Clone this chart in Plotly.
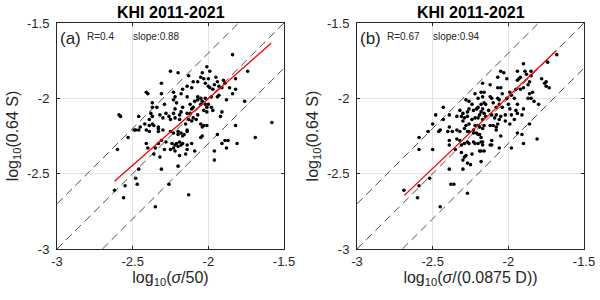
import plotly.graph_objects as go

# ---------------- data ----------------
a_x = [-1.84,-2.01,-2.25,-2.20,-2.04,-1.99,-2.13,-2.05,-2.00,-2.10,-2.07,-1.94,-1.90,-1.82,-1.74,
       -2.31,-2.14,-2.17,-2.11,-2.02,-2.00,-1.97,-1.82,-1.84,-2.41,-2.40,-2.31,-2.23,-2.18,-2.14,
       -2.07,-2.05,-2.02,-1.88,-1.76,-1.95,-1.89,-1.99,-1.96,-1.93,-1.91,-1.86,-1.98,-1.94,-1.93,
       -2.22,-2.03,
       -2.23,-2.21,-2.37,-2.34,-2.29,-2.10,-2.05,-2.01,-1.98,-1.97,-2.59,-2.58,-2.46,-1.92,-1.91,
       -1.82,-1.58,-1.69,-2.53,-2.48,-2.45,-1.94,-2.37,-2.38,-2.37,-2.39,-2.37,-2.39,-2.32,-2.30,
       -2.28,-2.26,-2.25,-2.22,-2.17,-2.18,-2.14,-2.12,-2.23,-2.22,-2.19,-2.19,-2.13,-2.15,-2.42,
       -2.36,-2.33,-2.41,-2.39,-2.33,-2.46,-2.14,-2.18,-2.07,-2.08,-2.10,-2.11,-2.05,-2.03,-2.04,
       -2.01,-2.02,-2.00,-2.03,-2.01,-2.12,-2.11,-2.07,-2.04,-2.09,
       -2.49,-2.33,-2.30,-2.25,-2.23,-2.20,-2.16,-2.14,-2.20,-2.17,-2.41,-2.33,-2.31,-2.28,-2.24,
       -2.22,-2.21,-2.19,-2.18,-2.17,-2.20,-2.14,-2.11,-2.23,-2.22,-2.19,-2.15,-2.14,-2.25,-2.40,
       -2.35,-2.29,-2.60,-2.46,-2.31,-2.48,-2.47,-2.55,-2.62,-2.56,-2.13,-2.35,-2.20,-2.26,-2.36,
       -2.32,-1.96,-1.96,-2.09,-1.91,-1.89,-1.87,-1.88,-1.81,-2.05,-2.04]
a_y = [-1.71,-1.79,-1.82,-1.83,-1.83,-1.82,-1.85,-1.86,-1.87,-1.89,-1.89,-1.89,-1.88,-1.87,-1.82,
       -1.90,-1.92,-1.94,-1.93,-1.90,-1.92,-1.94,-1.94,-1.97,-1.96,-1.97,-1.97,-1.96,-1.97,-1.99,
       -1.99,-2.00,-2.00,-2.01,-2.02,-1.86,-1.90,-1.93,-1.91,-1.92,-1.93,-1.93,-1.99,-1.99,-1.98,
       -1.99,-1.87,
       -2.01,-2.03,-2.06,-2.06,-2.04,-2.06,-2.04,-2.06,-2.06,-2.08,-2.11,-2.12,-2.12,-2.12,-2.09,
       -2.18,-2.16,-2.26,-2.26,-2.21,-2.19,-2.24,-2.03,-2.10,-2.12,-2.14,-2.17,-2.18,-2.11,-2.13,
       -2.10,-2.12,-2.14,-2.07,-2.06,-2.09,-2.10,-2.10,-2.10,-2.13,-2.11,-2.14,-2.14,-2.17,-2.17,
       -2.18,-2.19,-2.21,-2.22,-2.20,-2.21,-2.21,-2.23,-2.11,-2.14,-2.13,-2.15,-2.17,-2.18,-2.19,
       -2.18,-2.04,-2.04,-2.08,-2.09,-2.04,-2.07,-2.01,-2.02,-2.02,
       -2.21,-2.22,-2.21,-2.22,-2.23,-2.22,-2.24,-2.22,-2.24,-2.25,-2.30,-2.30,-2.28,-2.29,-2.30,
       -2.31,-2.30,-2.29,-2.31,-2.30,-2.32,-2.31,-2.30,-2.33,-2.35,-2.38,-2.37,-2.34,-2.34,-2.33,
       -2.33,-2.34,-2.34,-2.47,-2.47,-2.53,-2.57,-2.58,-2.61,-2.66,-2.64,-2.72,-2.45,-2.57,-2.37,
       -2.39,-2.35,-2.41,-2.35,-2.30,-2.28,-2.28,-2.33,-2.30,-2.26,-2.25]

b_x = [-1.68,-2.05,-2.03,-1.90,-1.74,-1.94,-1.89,-1.88,-1.85,-1.85,-2.07,-2.01,-1.93,-1.92,-1.94,
       -1.78,-1.76,-1.75,-1.73,-1.75,-1.86,-1.87,-2.17,-2.12,-2.16,-2.18,-2.07,-2.05,-2.04,-1.99,
       -1.98,-1.95,-1.92,-1.90,-1.86,-1.84,-2.20,-2.17,-2.12,-2.11,-2.07,-2.06,-2.01,-1.96,-1.87,
       -1.85,-1.83,-2.22,-2.26,-2.28,-2.24,-2.43,
       -2.16,-2.15,-2.18,-2.20,-2.17,-2.13,-2.10,-2.08,-2.06,-2.04,-2.00,-1.99,-1.94,-1.95,-1.90,
       -1.80,-2.18,-2.16,-2.19,-2.20,-2.17,-2.15,-2.11,-2.08,-2.09,-2.05,-2.06,-2.02,-1.98,-1.94,
       -1.91,-1.96,-2.07,-2.08,-2.10,-2.02,-1.99,-2.16,-2.12,-2.17,-1.94,-1.91,-2.20,-1.86,-1.81,
       -2.32,-2.30,-2.27,-2.26,-2.23,-2.21,-2.34,-2.31,-2.29,-2.27,-2.24,-2.22,-2.30,-2.28,-2.26,
       -2.22,-2.19,-2.34,-2.32,-2.29,-2.27,-2.23,-2.21,-2.48,-2.39,-2.43,-2.50,-2.45,-2.39,-2.53,
       -2.59,-2.46,-2.40,-2.37,-2.26,-2.23,-2.19,-2.34,-2.32,-2.31,-2.29,-2.27,-2.26,-2.23,-2.22,
       -2.20,-2.18,-2.17,-2.39,-2.39,-2.59,-2.50,-2.35,-2.31,-2.28,-2.29,-2.24,-2.19,-2.30,-2.27,
       -2.25,-2.18,-2.39,-2.30,-2.52,-2.59,-2.69,-2.60,-2.38,-2.36,-2.27,-2.45,-2.20,-2.18,-2.17,
       -2.18,-2.16,-2.11,-2.12,-2.11,-2.08,-2.05,-2.06,-1.98,-1.90]
b_y = [-1.71,-1.82,-1.83,-1.77,-1.76,-1.82,-1.82,-1.84,-1.82,-1.85,-1.86,-1.87,-1.87,-1.86,-1.88,
       -1.87,-1.90,-1.89,-1.93,-1.92,-1.89,-1.91,-1.90,-1.91,-1.96,-1.96,-1.93,-1.93,-1.97,-1.96,
       -1.98,-1.94,-1.94,-1.93,-1.97,-1.96,-2.00,-1.99,-1.99,-2.00,-2.00,-2.01,-2.00,-2.00,-2.00,
       -2.00,-2.02,-1.97,-2.02,-2.01,-2.04,-2.06,
       -2.03,-2.04,-2.04,-2.06,-2.07,-2.08,-2.03,-2.06,-2.04,-2.06,-2.04,-2.07,-2.04,-2.08,-2.07,
       -2.04,-2.09,-2.10,-2.11,-2.13,-2.14,-2.12,-2.11,-2.11,-2.13,-2.12,-2.14,-2.11,-2.11,-2.10,
       -2.11,-2.14,-2.17,-2.19,-2.18,-2.15,-2.17,-2.18,-2.18,-2.20,-2.23,-2.24,-2.18,-2.17,-2.27,
       -2.08,-2.10,-2.09,-2.07,-2.08,-2.07,-2.12,-2.12,-2.13,-2.12,-2.14,-2.13,-2.15,-2.18,-2.17,
       -2.18,-2.19,-2.21,-2.22,-2.20,-2.22,-2.21,-2.23,-2.11,-2.11,-2.14,-2.17,-2.21,-2.19,-2.22,
       -2.26,-2.22,-2.22,-2.22,-2.22,-2.23,-2.24,-2.27,-2.28,-2.31,-2.30,-2.29,-2.30,-2.29,-2.30,
       -2.30,-2.29,-2.31,-2.28,-2.31,-2.34,-2.34,-2.34,-2.36,-2.38,-2.39,-2.37,-2.35,-2.41,-2.43,
       -2.44,-2.42,-2.47,-2.47,-2.53,-2.58,-2.61,-2.66,-2.57,-2.57,-2.63,-2.72,-2.24,-2.26,-2.29,
       -2.35,-2.35,-2.28,-2.31,-2.31,-2.21,-2.25,-2.33,-2.33,-2.30]

fit_a_x = [-2.62, -1.585]
fit_a_y = [-2.55, -1.635]
fit_b_x = [-2.687, -1.682]
fit_b_y = [-2.644, -1.683]

ref_offsets = [0.3, 0.0, -0.3]
axis_min, axis_max = -3.0, -1.5
tick_vals = [-3, -2.5, -2, -1.5]
tick_text = ["-3", "-2.5", "-2", "-1.5"]

panel_title = "KHI 2011-2021"
labels = ["(a)", "(b)"]
r_text = ["R=0.4", "R=0.67"]
slope_text = ["slope:0.88", "slope:0.94"]
x_titles = ["log<sub>10</sub>(<i>σ</i>/50)", "log<sub>10</sub>(<i>σ</i>/(0.0875 D))"]
y_title = "log<sub>10</sub>(0.64 S)"

# ---------------- figure ----------------
FONT = "Liberation Sans, Arial, sans-serif"
fig = go.Figure()
panels = [(a_x, a_y, fit_a_x, fit_a_y), (b_x, b_y, fit_b_x, fit_b_y)]
xdomains = [[57/600, 284/600], [357/600, 584/600]]
ydomain = [1 - 249/300, 1 - 23/300]

for i, (px, py, fx, fy) in enumerate(panels):
    xa = "x" if i == 0 else "x2"
    ya = "y" if i == 0 else "y2"
    for off in ref_offsets:
        lo = max(axis_min, axis_min - off)
        hi = min(axis_max, axis_max - off)
        fig.add_trace(go.Scatter(x=[lo, hi], y=[lo + off, hi + off], mode="lines",
                                 line=dict(color="#4d4d4d", width=1, dash="8px,5px"),
                                 xaxis=xa, yaxis=ya, showlegend=False, hoverinfo="skip"))
    fig.add_trace(go.Scatter(x=px, y=py, mode="markers",
                             marker=dict(color="black", size=3.6),
                             xaxis=xa, yaxis=ya, showlegend=False))
    fig.add_trace(go.Scatter(x=fx, y=fy, mode="lines",
                             line=dict(color="#ff0000", width=1.3),
                             xaxis=xa, yaxis=ya, showlegend=False))

axis_common = dict(range=[axis_min, axis_max], tickvals=tick_vals, ticktext=tick_text,
                   showgrid=True, gridcolor="#e3e3e3", gridwidth=1, zeroline=False,
                   showline=True, linecolor="#262626", linewidth=1, mirror="ticks",
                   ticks="inside", ticklen=3, tickcolor="#262626", automargin=False,
                   tickfont=dict(family=FONT, size=13, color="#262626"))

for i in range(2):
    sx = "" if i == 0 else "2"
    fig.update_layout(**{
        f"xaxis{sx}": dict(axis_common, domain=xdomains[i], anchor=f"y{sx}",
                           title=dict(text=x_titles[i], font=dict(family=FONT, size=16, color="#262626"), standoff=3)),
        f"yaxis{sx}": dict(axis_common, domain=ydomain, anchor=f"x{sx}", ticklabelstandoff=4,
                           title=dict(text=y_title, font=dict(family=FONT, size=16, color="#262626"), standoff=4)),
    })
    x0 = xdomains[i][0]
    xc = (xdomains[i][0] + xdomains[i][1]) / 2
    fig.add_annotation(x=xc, y=1 - 12/300, xref="paper", yref="paper", text=f"<b>{panel_title}</b>",
                       showarrow=False, font=dict(family=FONT, size=16, color="black"),
                       xanchor="center", yanchor="middle")
    fig.add_annotation(x=x0 + 1/600, y=1 - 38/300, xref="paper", yref="paper", text=labels[i],
                       showarrow=False, font=dict(family=FONT, size=17, color="#262626"),
                       xanchor="left", yanchor="middle")
    fig.add_annotation(x=x0 + 28/600, y=1 - 37/300, xref="paper", yref="paper", text=r_text[i],
                       showarrow=False, font=dict(family=FONT, size=10, color="#262626"),
                       xanchor="left", yanchor="middle")
    fig.add_annotation(x=x0 + 74/600, y=1 - 37/300, xref="paper", yref="paper", text=slope_text[i],
                       showarrow=False, font=dict(family=FONT, size=10, color="#262626"),
                       xanchor="left", yanchor="middle")

fig.update_layout(width=600, height=300, margin=dict(l=0, r=0, t=0, b=0),
                  paper_bgcolor="white", plot_bgcolor="white", showlegend=False)

fig.write_html("out.html", config={"displayModeBar": False},
               post_script="document.body.style.margin='0';document.body.style.padding='0';")
